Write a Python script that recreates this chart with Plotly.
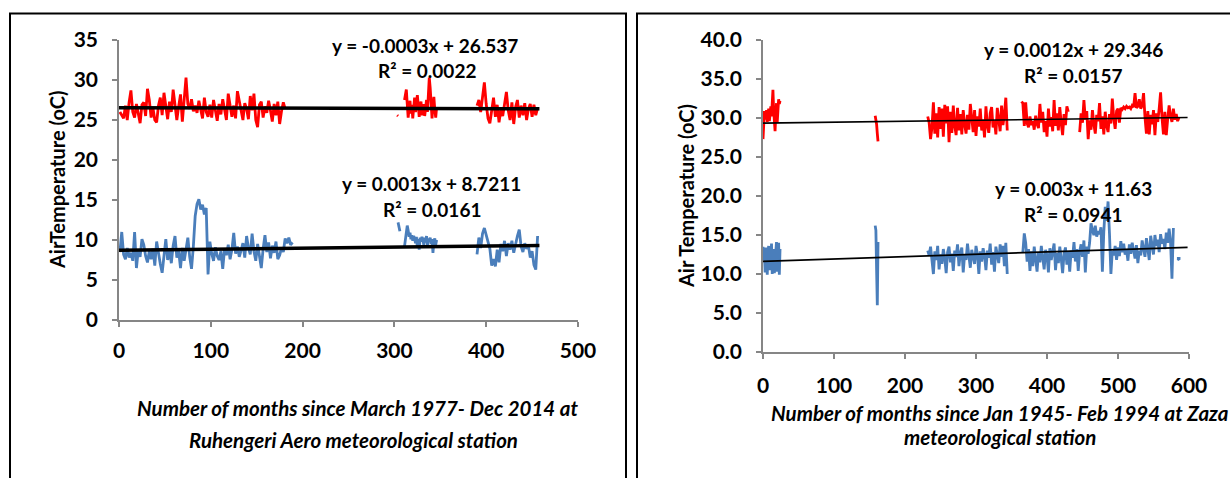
import plotly.graph_objects as go

W, H = 1230, 478

# ---------------- Ruhengeri Aero (left panel) ----------------
# month index of first value, spacing in months, values (deg C)
ruh_tmax_a_start, ruh_tmax_a_step = 1, 2
ruh_tmax_a = [26.0, 25.5, 25.2, 26.8, 25.0, 27.2, 28.7, 26.0, 25.3, 27.0, 25.8, 24.6, 26.9, 27.2, 25.5,
              28.9, 27.5, 25.3, 26.5, 25.0, 24.7, 26.8, 27.8, 25.6, 28.4, 26.9, 25.1, 27.3, 26.0, 28.8,
              27.2, 25.0, 26.7, 28.2, 24.8, 27.9, 30.3, 27.0, 26.4, 27.6, 26.1, 26.8, 25.9, 27.4, 26.2,
              25.2, 27.8, 26.0, 25.4, 26.9, 25.3, 27.5, 26.2, 24.9, 27.0, 25.7, 27.6, 26.1, 25.0, 28.3,
              27.0, 25.4, 26.8, 25.2, 28.6, 27.3, 26.0, 25.0, 27.1, 26.4, 25.1, 28.0, 26.2, 28.3, 25.0,
              24.1, 26.9, 27.3, 25.3, 26.7, 25.9, 27.4, 26.2, 24.8, 27.0, 25.6, 27.3, 24.5, 26.1, 27.2,
              26.4]
ruh_tmax_b_start, ruh_tmax_b_step = 303, 1
ruh_tmax_b = [25.6, 25.5]
ruh_tmax_c_start, ruh_tmax_c_step = 311, 1
ruh_tmax_c = [27.5, 28.6, 28.8, 27.0, 25.3, 26.5, 27.4, 25.8, 26.9, 25.2, 26.4, 27.8, 26.0, 27.6, 28.1,
              26.8, 25.4, 26.7, 27.3, 25.6, 26.2, 27.0, 25.5, 26.8, 27.5, 26.0, 28.4, 30.3, 29.0, 26.5,
              25.2, 26.8, 27.9, 26.3, 25.3, 26.6]
ruh_tmax_d_start, ruh_tmax_d_step = 390, 2
ruh_tmax_d = [26.8, 27.5, 26.0, 28.2, 29.7, 27.0, 25.2, 24.6, 26.5, 27.8, 25.4, 26.9, 24.7, 26.3, 25.5,
              27.0, 28.5, 26.2, 25.0, 27.2, 24.5, 26.6, 27.5, 25.3, 26.8, 25.6, 27.1, 25.0, 26.4, 27.0,
              25.4, 26.9, 25.6, 26.5]

ruh_tmin_a_start, ruh_tmin_a_step = 1, 2
ruh_tmin_a = [8.5, 11.0, 8.2, 7.6, 9.0, 7.8, 8.4, 7.4, 11.0, 6.5, 8.8, 7.9, 10.1, 9.4, 8.0, 7.2, 8.6,
              7.6, 8.9, 6.8, 9.8, 8.2, 7.0, 5.9, 8.4, 10.1, 7.5, 8.8, 7.1, 9.3, 10.5, 7.8, 8.6, 6.5,
              9.0, 7.4, 8.8, 10.3, 7.9, 6.4, 9.2, 13.0, 14.5, 15.1, 13.8, 14.4, 13.2, 14.0, 5.7, 9.8,
              8.3, 7.4, 9.1, 8.0, 7.5, 8.6, 6.4, 8.9, 8.1, 9.4, 7.6, 8.8, 10.9, 8.3, 9.2, 7.9, 8.7,
              9.6, 7.8, 10.5, 9.0, 8.2, 10.8, 8.6, 7.4, 9.5, 8.0, 6.5, 8.9, 10.6, 8.5, 9.7, 7.7, 9.3,
              8.4, 9.8, 7.6, 8.1, 9.0, 8.5, 10.2, 9.6, 10.3, 9.4, 9.7]
ruh_tmin_b_start, ruh_tmin_b_step = 304, 1
ruh_tmin_b = [12.2, 11.6, 11.1]
ruh_tmin_c_start, ruh_tmin_c_step = 311, 1
ruh_tmin_c = [9.2, 10.0, 11.3, 11.8, 11.2, 10.4, 10.9, 10.1, 10.6, 9.9, 10.5, 10.2, 9.6, 10.4, 9.0,
              10.1, 8.8, 10.3, 9.8, 10.4, 10.0, 9.4, 10.3, 9.7, 10.5, 9.2, 10.2, 9.9, 10.3, 9.5, 10.1,
              8.4, 9.8, 10.2, 9.4, 10.0]
ruh_tmin_d_start, ruh_tmin_d_step = 390, 2
ruh_tmin_d = [8.2, 10.3, 9.0, 10.8, 11.5, 10.6, 9.8, 8.9, 6.8, 7.6, 6.7, 8.8, 7.2, 9.5, 8.6, 9.9, 8.0,
              9.6, 8.8, 9.9, 8.4, 9.7, 10.5, 11.3, 9.2, 8.5, 9.6, 8.9, 9.3, 7.8, 8.6, 6.9, 6.3, 10.5]

ruh_tmax_fit = (-0.0003, 26.537)
ruh_tmin_fit = (0.0013, 8.7211)
ruh_fit_span = [0, 458]
ruh_eq_tmax = ["y = -0.0003x + 26.537", "R² = 0.0022"]
ruh_eq_tmin = ["y = 0.0013x + 8.7211", "R² = 0.0161"]

# ---------------- Zaza (right panel) ----------------
zaz_tmax_a_start, zaz_tmax_a_step = 0, 1
zaz_tmax_a = [27.3, 30.5, 30.9, 29.8, 30.6, 31.0, 29.5, 30.2, 31.2, 29.6, 30.8, 31.5, 30.2, 32.6, 33.6,
              31.0, 28.6, 28.3, 30.5, 31.9, 29.4, 31.2, 32.4, 31.8, 32.2]
zaz_tmax_b_start, zaz_tmax_b_step = 158, 1
zaz_tmax_b = [30.3, 29.9, 29.2, 28.0, 27.0]
zaz_tmax_c_start, zaz_tmax_c_step = 232, 2
zaz_tmax_c = [30.2, 29.4, 27.3, 28.8, 32.0, 28.0, 30.6, 27.5, 31.4, 28.6, 31.2, 27.6, 31.7, 29.3, 31.5,
              26.9, 30.8, 28.1, 31.6, 29.0, 27.8, 31.3, 28.4, 30.5, 27.9, 31.0, 29.2, 28.0, 30.4, 28.5,
              31.8, 29.6, 28.2, 31.0, 27.7, 30.2, 28.9, 31.2, 28.4, 29.8, 27.5, 31.5, 29.0, 28.1, 30.6,
              31.4, 28.8, 29.7, 27.9, 31.3, 29.5, 28.3, 31.6, 29.1, 30.5, 32.6, 28.4]
zaz_tmax_d_start, zaz_tmax_d_step = 364, 2
zaz_tmax_d = [32.1, 31.9, 29.0, 32.0, 29.3, 28.8, 30.2, 29.1, 29.6, 28.5, 30.3, 29.2, 28.7, 31.8, 29.4,
              30.8, 28.2, 29.6, 27.6, 31.2, 28.9, 30.1, 28.3, 32.3, 29.0, 30.6, 28.4, 31.4, 29.3, 27.8,
              30.5, 29.1, 31.5, 30.8]
zaz_tmax_e_start, zaz_tmax_e_step = 446, 2
zaz_tmax_e = [28.2, 30.6, 29.4, 32.3, 29.8, 30.9, 27.3, 29.7, 28.5, 31.0, 29.2, 28.0, 30.4, 29.6, 31.9,
              28.6, 30.2, 27.9, 30.8, 29.0, 28.2, 30.5, 29.3, 32.5, 30.0, 28.6, 30.9, 31.2, 29.4, 31.3,
              31.1, 31.4, 31.2, 31.5, 31.3, 31.4, 31.2, 31.6, 31.4, 33.2, 31.3, 31.5, 32.4, 31.2, 31.6,
              33.2, 30.1, 28.0, 30.9, 27.9, 30.4, 29.2, 31.0, 27.8, 30.6, 29.5, 31.2, 33.3, 30.0, 27.9,
              30.8, 27.8, 29.9, 31.6, 30.2, 29.5, 31.2, 29.8, 30.5, 29.6, 30.1]

zaz_tmin_a_start, zaz_tmin_a_step = 0, 1
zaz_tmin_a = [13.5, 11.8, 12.6, 10.2, 13.4, 11.0, 9.9, 12.8, 13.6, 10.5, 12.2, 11.4, 13.9, 10.0, 12.5,
              13.2, 10.1, 11.9, 13.7, 14.1, 10.3, 12.8, 14.0, 9.9, 13.2]
zaz_tmin_b_start, zaz_tmin_b_step = 158, 1
zaz_tmin_b = [16.2, 15.6, 10.5, 6.0, 14.1]
zaz_tmin_c_start, zaz_tmin_c_step = 232, 2
zaz_tmin_c = [13.0, 12.4, 13.5, 11.2, 10.0, 12.9, 11.8, 13.6, 10.6, 12.5, 11.3, 13.2, 12.0, 10.1, 12.8,
              13.5, 11.5, 12.6, 10.4, 13.0, 12.2, 13.8, 11.0, 12.7, 13.4, 10.2, 12.5, 11.8, 13.9, 12.3,
              10.8, 13.1, 12.0, 11.3, 13.6, 12.5, 10.0, 12.9, 11.6, 13.3, 12.4, 10.5, 13.0, 12.1, 13.9,
              11.2, 12.8, 10.3, 13.5, 12.6, 11.4, 13.8, 12.2, 13.6, 11.0, 14.0, 10.0]
zaz_tmin_d_start, zaz_tmin_d_step = 366, 2
zaz_tmin_d = [12.8, 15.2, 14.0, 11.6, 13.2, 10.4, 12.9, 11.0, 13.5, 12.2, 10.3, 12.8, 11.5, 13.6, 12.0,
              10.6, 13.1, 12.4, 10.2, 13.3, 11.8, 12.9, 13.9, 10.5, 12.7, 11.4, 13.5, 12.0, 10.1, 12.6,
              13.4, 11.2, 12.8, 10.3, 13.0, 12.1, 14.1, 11.6, 13.2, 10.4, 12.9, 13.8, 12.2, 14.3, 10.2,
              13.5, 12.6, 14.0, 16.5, 15.6, 15.0, 16.2, 14.8, 15.5, 15.1, 16.0, 10.3, 15.4, 18.6, 16.8,
              19.3, 15.2, 10.0, 13.0, 12.4, 13.6, 11.8, 13.4, 12.3, 14.2, 12.8, 13.9, 12.5, 13.1, 11.7,
              13.8, 12.6, 14.0, 13.2, 12.0, 13.7, 11.4, 13.0, 12.4, 14.3, 13.1, 12.2, 14.6, 13.0, 11.8,
              14.9, 13.4, 12.5, 15.0, 13.6, 14.4, 12.8, 15.1, 13.9, 14.5, 13.2, 15.3, 14.0, 15.8, 14.2,
              9.4, 15.9]
zaz_tmin_e_start, zaz_tmin_e_step = 583, 1
zaz_tmin_e = [12.0, 12.0, 11.9, 12.0, 12.0, 12.0]

zaz_tmax_fit = (0.0012, 29.346)
zaz_tmin_fit = (0.003, 11.63)
zaz_fit_span = [0, 598]
zaz_eq_tmax = ["y = 0.0012x + 29.346", "R² = 0.0157"]
zaz_eq_tmin = ["y = 0.003x + 11.63", "R² = 0.0941"]

left_xticks = [0, 100, 200, 300, 400, 500]
left_yticks = [0, 5, 10, 15, 20, 25, 30, 35]
right_xticks = [0, 100, 200, 300, 400, 500, 600]
right_yticks = [0, 5, 10, 15, 20, 25, 30, 35, 40]

left_ytitle = "AirTemperature (oC)"
right_ytitle = "Air Temperature (oC)"
left_xtitle = ["Number of months since March 1977- Dec 2014 at", "Ruhengeri Aero meteorological station"]
right_xtitle = ["Number of months since Jan 1945- Feb 1994 at Zaza", "meteorological station"]


def build(segs):
    xs, ys = [], []
    for start, step, vals in segs:
        xs += [start + step * i for i in range(len(vals))]
        ys += list(vals)
        xs.append(None)
        ys.append(None)
    return xs, ys


def fit_line(fit, span):
    a, b = fit
    return span, [a * v + b for v in span]


RED = "#FF0000"
BLUE = "#4A7EBB"
AXIS = "#868686"
FONT = "Lato"

fig = go.Figure()

series = [
    ([(ruh_tmax_a_start, ruh_tmax_a_step, ruh_tmax_a), (ruh_tmax_b_start, ruh_tmax_b_step, ruh_tmax_b),
      (ruh_tmax_c_start, ruh_tmax_c_step, ruh_tmax_c), (ruh_tmax_d_start, ruh_tmax_d_step, ruh_tmax_d)], RED, "x", "y"),
    ([(ruh_tmin_a_start, ruh_tmin_a_step, ruh_tmin_a), (ruh_tmin_b_start, ruh_tmin_b_step, ruh_tmin_b),
      (ruh_tmin_c_start, ruh_tmin_c_step, ruh_tmin_c), (ruh_tmin_d_start, ruh_tmin_d_step, ruh_tmin_d)], BLUE, "x", "y"),
    ([(zaz_tmax_a_start, zaz_tmax_a_step, zaz_tmax_a), (zaz_tmax_b_start, zaz_tmax_b_step, zaz_tmax_b),
      (zaz_tmax_c_start, zaz_tmax_c_step, zaz_tmax_c), (zaz_tmax_d_start, zaz_tmax_d_step, zaz_tmax_d),
      (zaz_tmax_e_start, zaz_tmax_e_step, zaz_tmax_e)], RED, "x2", "y2"),
    ([(zaz_tmin_a_start, zaz_tmin_a_step, zaz_tmin_a), (zaz_tmin_b_start, zaz_tmin_b_step, zaz_tmin_b),
      (zaz_tmin_c_start, zaz_tmin_c_step, zaz_tmin_c), (zaz_tmin_d_start, zaz_tmin_d_step, zaz_tmin_d),
      (zaz_tmin_e_start, zaz_tmin_e_step, zaz_tmin_e)], BLUE, "x2", "y2"),
]
for segs, col, xa, ya in series:
    xs, ys = build(segs)
    fig.add_trace(go.Scatter(x=xs, y=ys, mode="lines", connectgaps=False,
                             line=dict(color=col, width=2.8), xaxis=xa, yaxis=ya))

for fit, span, xa, ya, w in [(ruh_tmax_fit, ruh_fit_span, "x", "y", 3.4),
                             (ruh_tmin_fit, ruh_fit_span, "x", "y", 3.4),
                             (zaz_tmax_fit, zaz_fit_span, "x2", "y2", 1.7),
                             (zaz_tmin_fit, zaz_fit_span, "x2", "y2", 1.7)]:
    fx, fy = fit_line(fit, span)
    fig.add_trace(go.Scatter(x=fx, y=fy, mode="lines", line=dict(color="black", width=w),
                             xaxis=xa, yaxis=ya, cliponaxis=False))


def px(x):
    return x / W


def py(y):
    return 1 - y / H


tickfont = dict(family=FONT, size=21, color="black", weight="bold")
axis_common = dict(showline=True, linecolor=AXIS, linewidth=1.6, ticks="outside", ticklen=5,
                   tickcolor=AXIS, tickwidth=1.6, showgrid=False, zeroline=False, tickfont=tickfont,
                   fixedrange=True, automargin=False)

fig.update_layout(
    template="none",
    width=W, height=H, autosize=False,
    margin=dict(l=0, r=0, t=0, b=0, pad=0, autoexpand=False),
    paper_bgcolor="white", plot_bgcolor="white", showlegend=False,
    xaxis=dict(domain=[px(119), px(578)], range=[0, 500], tickvals=left_xticks, anchor="y",
               ticklabelstandoff=6, **axis_common),
    yaxis=dict(domain=[py(320), py(40)], range=[0, 35], tickvals=left_yticks, anchor="x",
               ticklabelstandoff=10, **axis_common),
    xaxis2=dict(domain=[px(763), px(1189)], range=[0, 600], tickvals=right_xticks, anchor="y2",
                ticklabelstandoff=9, **axis_common),
    yaxis2=dict(domain=[py(352), py(40)], range=[0, 40], tickvals=right_yticks, tickformat=".1f",
                anchor="x2", ticklabelstandoff=10, **axis_common),
)

# panel borders
fig.add_shape(type="rect", xref="paper", yref="paper", x0=px(10), x1=px(626), y0=-0.1, y1=py(13.5),
              line=dict(color="black", width=2))
fig.add_shape(type="rect", xref="paper", yref="paper", x0=px(637), x1=1.1, y0=-0.1, y1=py(13.5),
              line=dict(color="black", width=2))


def note(text, x, y, size=19, italic=False, angle=0):
    t = f"<b>{text}</b>"
    if italic:
        t = f"<i>{t}</i>"
    fig.add_annotation(text=t, xref="paper", yref="paper", x=px(x), y=py(y), xanchor="center",
                       yanchor="middle", showarrow=False, textangle=angle,
                       font=dict(family=FONT, size=size, color="black"))


note(ruh_eq_tmax[0], 425, 45)
note(ruh_eq_tmax[1], 427, 71)
note(ruh_eq_tmin[0], 431, 183)
note(ruh_eq_tmin[1], 432, 209)
note(zaz_eq_tmax[0], 1073, 49)
note(zaz_eq_tmax[1], 1073, 76)
note(zaz_eq_tmin[0], 1073, 188)
note(zaz_eq_tmin[1], 1073, 214)

note(left_ytitle, 57, 180, size=20, angle=-90)
note(right_ytitle, 686, 196, size=20, angle=-90)

note(left_xtitle[0], 357, 408, size=20.5, italic=True)
note(left_xtitle[1], 353, 440, size=20.5, italic=True)
note(right_xtitle[0], 1000, 413, size=20.5, italic=True)
note(right_xtitle[1], 1000, 437, size=20.5, italic=True)

fig.write_html("out.html", config={"responsive": False, "displayModeBar": False},
               post_script="document.body.style.margin='0';document.body.style.overflow='hidden';")
